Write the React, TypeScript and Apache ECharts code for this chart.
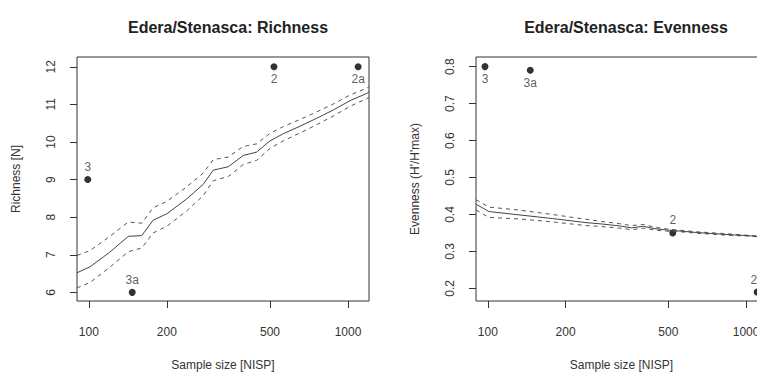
import React, { useEffect, useRef } from "react";
import * as echarts from "echarts";

// Richness rarefaction (sample size NISP -> N)
const richN = [90, 101, 120, 142, 160, 177, 200, 238, 276, 302, 320, 345, 394, 444, 500, 563, 653, 757, 877, 1019, 1180, 1205];
const richMean = [6.52, 6.68, 7.06, 7.49, 7.51, 7.92, 8.09, 8.48, 8.87, 9.25, 9.29, 9.34, 9.64, 9.73, 10.03, 10.22, 10.42, 10.63, 10.85, 11.1, 11.29, 11.33];
const richUpper = [6.98, 7.11, 7.48, 7.87, 7.84, 8.25, 8.42, 8.8, 9.17, 9.53, 9.56, 9.6, 9.88, 9.95, 10.23, 10.41, 10.6, 10.8, 11.01, 11.25, 11.43, 11.47];
const richLower = [6.12, 6.26, 6.66, 7.08, 7.18, 7.58, 7.76, 8.16, 8.57, 8.97, 9.02, 9.08, 9.4, 9.51, 9.83, 10.03, 10.24, 10.46, 10.69, 10.95, 11.15, 11.19];

// Evenness rarefaction
const evenN = [90, 101, 132, 178, 240, 270, 324, 360, 400, 440, 493, 560, 650, 760, 880, 1000, 1205];
const evenMean = [0.428, 0.408, 0.399, 0.389, 0.378, 0.375, 0.369, 0.364, 0.368, 0.362, 0.358, 0.355, 0.351, 0.348, 0.345, 0.343, 0.339];
const evenUpper = [0.44, 0.42, 0.412, 0.4, 0.387, 0.382, 0.375, 0.37, 0.373, 0.366, 0.361, 0.357, 0.353, 0.35, 0.347, 0.344, 0.34];
const evenLower = [0.412, 0.392, 0.388, 0.38, 0.37, 0.368, 0.363, 0.359, 0.363, 0.358, 0.355, 0.353, 0.349, 0.346, 0.343, 0.342, 0.338];

// Assemblages
const siteLabels = ["3", "3a", "2", "2a"];
const richSiteN = [99, 147, 518, 1094];
const richSiteY = [9, 6, 12, 12];
const richLabelPos = ["top", "top", "bottom", "bottom"];
const evenSiteN = [97.5, 146, 520, 1104];
const evenSiteY = [0.8, 0.79, 0.35, 0.19];
const evenLabelPos = ["bottom", "bottom", "top", "top"];

// Ticks
const xTicks = [100, 200, 500, 1000];
const richYTicks = [6, 7, 8, 9, 10, 11, 12];
const evenYTicks = [0.2, 0.3, 0.4, 0.5, 0.6, 0.7, 0.8];

const FONT = "'Liberation Sans', Arial, Helvetica, sans-serif";
const TXT = "#333";

const lg = (v: number) => Math.log10(v);
const pairs = (xs: number[], ys: number[]) => xs.map((x, i) => [lg(x), ys[i]]);

export default function App() {
  const ref = useRef<HTMLDivElement>(null);
  useEffect(() => {
    if (!ref.current) return;
    const chart = echarts.init(ref.current, undefined, { renderer: "svg" });
    const xAxisBase = (gridIndex: number) => ({
      type: "value",
      gridIndex,
      min: lg(90),
      max: lg(1205),
      name: "Sample size [NISP]",
      nameLocation: "middle",
      nameGap: 58,
      nameTextStyle: { fontFamily: FONT, fontSize: 12, color: TXT },
      axisLine: { show: false },
      splitLine: { show: false },
      axisTick: {
        show: true,
        length: 7,
        lineStyle: { color: "#333" },
        customValues: xTicks.map(lg),
      },
      axisLabel: {
        customValues: xTicks.map(lg),
        formatter: (v: number) => String(Math.round(Math.pow(10, v))),
        fontFamily: FONT,
        fontSize: 12,
        color: TXT,
        margin: 25,
      },
    });
    const yAxisBase = (gridIndex: number, min: number, max: number, ticks: number[], name: string) => ({
      type: "value",
      gridIndex,
      min,
      max,
      name,
      nameLocation: "middle",
      nameGap: 55,
      nameTextStyle: { fontFamily: FONT, fontSize: 12, color: TXT },
      axisLine: { show: false },
      splitLine: { show: false },
      axisTick: { show: true, length: 7, lineStyle: { color: "#333" }, customValues: ticks },
      axisLabel: {
        customValues: ticks,
        rotate: 90,
        fontFamily: FONT,
        fontSize: 12,
        color: TXT,
        margin: 20,
        formatter: (v: number) => (ticks[0] < 1 ? v.toFixed(1) : String(v)),
      },
    });
    const lineS = (xi: number, d: number[][], dashed: boolean) => ({
      type: "line",
      xAxisIndex: xi,
      yAxisIndex: xi,
      data: d,
      showSymbol: false,
      silent: true,
      lineStyle: { color: dashed ? "#555" : "#444", width: 1, type: dashed ? [4, 4] : "solid" },
    });
    const scatterS = (xi: number, ns: number[], ys: number[], pos: string[]) => ({
      type: "scatter",
      xAxisIndex: xi,
      yAxisIndex: xi,
      symbolSize: 7,
      itemStyle: { color: "#000" },
      clip: false,
      data: ns.map((n, i) => ({
        name: siteLabels[i],
        value: [lg(n), ys[i]],
        label: { position: pos[i] },
      })),
      label: {
        show: true,
        formatter: "{b}",
        fontFamily: FONT,
        fontSize: 12,
        color: TXT,
        distance: 3,
      },
    });
    chart.setOption({
      animation: false,
      backgroundColor: "#fff",
      title: [
        {
          text: "Edera/Stenasca: Richness",
          left: 223,
          top: 14,
          textAlign: "center",
          textStyle: { fontFamily: FONT, fontSize: 16, fontWeight: "bold", color: "#222" },
        },
        {
          text: "Edera/Stenasca: Evenness",
          left: 621,
          top: 14,
          textAlign: "center",
          textStyle: { fontFamily: FONT, fontSize: 16, fontWeight: "bold", color: "#222" },
        },
      ],
      grid: [
        { left: 77, top: 57, width: 292, height: 251, show: true, borderColor: "#333", borderWidth: 1, backgroundColor: "transparent" },
        { left: 476, top: 57, width: 291, height: 251, show: true, borderColor: "#333", borderWidth: 1, backgroundColor: "transparent" },
      ],
      xAxis: [xAxisBase(0), xAxisBase(1)],
      yAxis: [
        yAxisBase(0, 5.77, 12.26, richYTicks, "Richness [N]"),
        yAxisBase(1, 0.166, 0.826, evenYTicks, "Evenness (H'/H'max)"),
      ],
      series: [
        lineS(0, pairs(richN, richUpper), true),
        lineS(0, pairs(richN, richLower), true),
        lineS(0, pairs(richN, richMean), false),
        scatterS(0, richSiteN, richSiteY, richLabelPos),
        lineS(1, pairs(evenN, evenUpper), true),
        lineS(1, pairs(evenN, evenLower), true),
        lineS(1, pairs(evenN, evenMean), false),
        scatterS(1, evenSiteN, evenSiteY, evenLabelPos),
      ],
    });
    return () => chart.dispose();
  }, []);
  return (
    <div
      style={{ position: "fixed", left: 0, top: 0, width: 757, height: 376, overflow: "hidden", background: "#fff" }}
    >
      <div ref={ref} style={{ width: 800, height: 376 }} />
    </div>
  );
}
